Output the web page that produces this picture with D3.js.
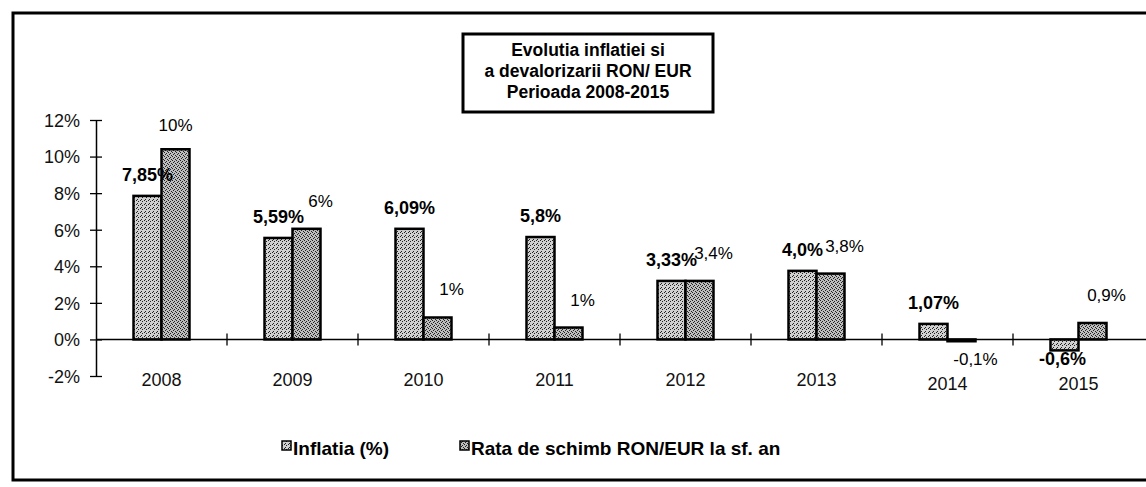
<!DOCTYPE html>
<html lang="ro">
<head>
<meta charset="utf-8">
<title>Evolutia inflatiei si a devalorizarii RON/EUR</title>
<script src="https://cdn.jsdelivr.net/npm/d3@7/dist/d3.min.js"></script>
<style>
  body { margin: 0; background: #fff; }
  svg { font-family: Arial, "Liberation Sans", sans-serif; }
</style>
</head>
<body>
<svg id="chart" width="1146" height="487"></svg>
<script>
// data
var years = ["2008", "2009", "2010", "2011", "2012", "2013", "2014", "2015"];
var inflatia = [7.85, 5.55, 6.05, 5.6, 3.2, 3.75, 0.85, -0.6];
var rata = [10.4, 6.05, 1.2, 0.65, 3.2, 3.6, -0.1, 0.9];
var inflatiaLabels = ["7,85%", "5,59%", "6,09%", "5,8%", "3,33%", "4,0%", "1,07%", "-0,6%"];
var rataLabels = ["10%", "6%", "1%", "1%", "3,4%", "3,8%", "-0,1%", "0,9%"];
var yTicks = [-2, 0, 2, 4, 6, 8, 10, 12];
var titleLines = ["Evolutia inflatiei  si", "a devalorizarii RON/ EUR", "Perioada 2008-2015"];
var seriesNames = ["Inflatia (%)", "Rata de schimb RON/EUR la sf. an"];

var svg = d3.select("#chart");

// stippled fills like the scanned excel chart
var defs = svg.append("defs");
function stipple(id, base, dots) {
  var p = defs.append("pattern").attr("id", id)
    .attr("width", 4).attr("height", 4).attr("patternUnits", "userSpaceOnUse");
  p.append("rect").attr("width", 4).attr("height", 4).attr("fill", base);
  dots.forEach(function(d) {
    p.append("rect").attr("x", d[0]).attr("y", d[1]).attr("width", 1).attr("height", 1).attr("fill", "#222");
  });
}
stipple("patInf", "#d0d0d0", [[0, 0], [2, 1], [1, 3]]);
stipple("patRata", "#bdbdbd", [[0, 0], [2, 1], [1, 2], [3, 3]]);

// outer frame
svg.append("rect")
  .attr("x", 13).attr("y", 13).attr("width", 1160).attr("height", 467)
  .attr("fill", "none").attr("stroke", "#000").attr("stroke-width", 3);

// scales
var x = d3.scaleBand().domain(years).range([96, 1144]);
var y = d3.scaleLinear().domain([-2, 12]).range([376, 120]);
var barW = 28;

// y axis with crossing ticks
var yAxis = svg.append("g").attr("transform", "translate(96,0)")
  .call(d3.axisLeft(y).tickValues(yTicks).tickSizeInner(6).tickSizeOuter(0)
    .tickFormat(function(d) { return d + "%"; }));
yAxis.select(".domain").attr("stroke", "#000").attr("stroke-width", 1.5);
yAxis.selectAll(".tick line").attr("x2", 6).attr("x1", -6).attr("stroke-width", 1.3);
yAxis.selectAll(".tick text").attr("x", -16).attr("dy", "0.35em")
  .attr("font-size", 18).attr("fill", "#111");

// bars
var g = svg.append("g");
years.forEach(function(yr, i) {
  var cx = x(yr) + x.bandwidth() / 2;
  [[inflatia[i], cx - barW, "url(#patInf)"], [rata[i], cx, "url(#patRata)"]].forEach(function(b) {
    g.append("rect")
      .attr("x", b[1])
      .attr("y", y(Math.max(0, b[0])))
      .attr("width", barW)
      .attr("height", Math.abs(y(b[0]) - y(0)))
      .attr("fill", b[2])
      .attr("stroke", "#000").attr("stroke-width", 2.5);
  });
});

// x axis line at 0 with crossing ticks between categories
svg.append("line")
  .attr("x1", 96).attr("x2", 1146).attr("y1", y(0)).attr("y2", y(0))
  .attr("stroke", "#000").attr("stroke-width", 1.5);
years.forEach(function(yr, i) {
  if (i == 0) return;
  svg.append("line")
    .attr("x1", x(yr)).attr("x2", x(yr))
    .attr("y1", y(0) - 6).attr("y2", y(0) + 6)
    .attr("stroke", "#000").attr("stroke-width", 1.3);
});
svg.selectAll(".year").data(years).enter().append("text")
  .attr("class", "year")
  .attr("x", function(d) { return x(d) + x.bandwidth() / 2; })
  .attr("y", function(d, i) { return i < 6 ? 386 : 390; })
  .attr("text-anchor", "middle").attr("font-size", 18).attr("fill", "#111")
  .text(function(d) { return d; });

// value labels
years.forEach(function(yr, i) {
  var cx = x(yr) + x.bandwidth() / 2;
  var v = inflatia[i];
  svg.append("text")
    .attr("x", cx - barW / 2 + (v < 0 ? -2 : 0))
    .attr("y", v < 0 ? y(v) + 15 : y(v) - 15)
    .attr("text-anchor", "middle").attr("font-size", 18).attr("font-weight", "bold")
    .text(inflatiaLabels[i]);
  var r = rata[i];
  svg.append("text")
    .attr("x", cx + barW / 2 + (i == 0 ? 0 : 14))
    .attr("y", r < 0 ? y(r) + 24 : y(r) - (i == 0 ? 18 : 22))
    .attr("text-anchor", "middle").attr("font-size", 17)
    .text(rataLabels[i]);
});

// title box
svg.append("rect")
  .attr("x", 463).attr("y", 34).attr("width", 250).attr("height", 78)
  .attr("fill", "#fff").attr("stroke", "#000").attr("stroke-width", 3);
svg.selectAll(".title").data(titleLines).enter().append("text")
  .attr("class", "title")
  .attr("x", 588).attr("y", function(d, i) { return 56 + i * 21; })
  .attr("text-anchor", "middle").attr("font-size", 17.5).attr("font-weight", "bold")
  .text(function(d) { return d; });

// legend
var legendX = [282, 460];
var legendFill = ["url(#patInf)", "url(#patRata)"];
seriesNames.forEach(function(name, i) {
  svg.append("rect")
    .attr("x", legendX[i]).attr("y", 441).attr("width", 9).attr("height", 9)
    .attr("fill", legendFill[i]).attr("stroke", "#000").attr("stroke-width", 1.5);
  svg.append("text")
    .attr("x", legendX[i] + 11).attr("y", 455)
    .attr("font-size", 19).attr("font-weight", "bold")
    .text(name);
});
</script>
</body>
</html>
